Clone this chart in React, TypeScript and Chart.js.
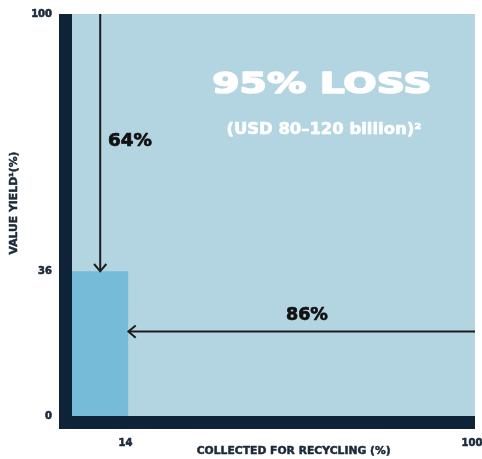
import React, { useEffect, useRef } from "react";
import { Chart, registerables } from "chart.js";

Chart.register(...registerables);

// ---- data ----
const X_TICKS = [14, 100];
const Y_TICKS = [0, 36, 100];
const potentialX = [0, 100];
const potentialY = [100, 100];
const yieldX = [0, 14];
const yieldY = [36, 36];
const valueLossArrowX = [7, 7];
const valueLossArrowY = [100, 36];
const notCollectedArrowX = [100, 14];
const notCollectedArrowY = [21, 21];
const VALUE_LOSS_LABEL = "64%";
const NOT_COLLECTED_LABEL = "86%";
const HEADLINE = "95% LOSS";
const SUBLINE = "(USD 80–120 billion)²";
const X_TITLE = "COLLECTED FOR RECYCLING (%)";
const Y_TITLE = "VALUE YIELD¹(%)";

const pts = (xs: number[], ys: number[]) => xs.map((x, i) => ({ x, y: ys[i] }));

const NAVY = "#0f2338";
const TEXT = "#1c2a3a";
const FONT = "'DejaVu Sans', sans-serif";

function drawText(
  ctx: CanvasRenderingContext2D,
  text: string,
  cx: number,
  cy: number,
  font: string,
  color: string,
  width?: number,
  rotate?: number,
  stroke?: number
) {
  ctx.save();
  ctx.font = font;
  const w = ctx.measureText(text).width;
  const s = width ? width / w : 1;
  ctx.translate(cx, cy);
  if (rotate) ctx.rotate(rotate);
  ctx.scale(s, 1);
  ctx.textAlign = "center";
  ctx.textBaseline = "middle";
  ctx.fillStyle = color;
  ctx.fillText(text, 0, 0);
  if (stroke) {
    ctx.strokeStyle = color;
    ctx.lineWidth = stroke;
    ctx.lineJoin = "round";
    ctx.strokeText(text, 0, 0);
  }
  ctx.restore();
}

const decorPlugin = {
  id: "decor",
  afterDatasetsDraw(chart: any) {
    const { ctx, chartArea, scales } = chart;
    const x = scales.x;
    const y = scales.y;
    // arrowheads
    chart.data.datasets.forEach((ds: any, i: number) => {
      if (!ds.arrow) return;
      const meta = chart.getDatasetMeta(i);
      const p = meta.data;
      const a = p[p.length - 2];
      const b = p[p.length - 1];
      const ang = Math.atan2(b.y - a.y, b.x - a.x);
      const len = 9.5;
      const spread = (40 * Math.PI) / 180;
      ctx.save();
      ctx.strokeStyle = ds.borderColor;
      ctx.lineWidth = 2;
      ctx.beginPath();
      ctx.moveTo(b.x - len * Math.cos(ang - spread), b.y - len * Math.sin(ang - spread));
      ctx.lineTo(b.x, b.y);
      ctx.lineTo(b.x - len * Math.cos(ang + spread), b.y - len * Math.sin(ang + spread));
      ctx.stroke();
      ctx.restore();
    });
    // frame
    ctx.save();
    ctx.fillStyle = NAVY;
    const t = 13;
    ctx.fillRect(chartArea.left - t, chartArea.top, t, chartArea.bottom - chartArea.top + t);
    ctx.fillRect(chartArea.left - t, chartArea.bottom, chartArea.right - chartArea.left + t, t);
    ctx.restore();
    // annotations
    drawText(ctx, VALUE_LOSS_LABEL, x.getPixelForValue(14.4), y.getPixelForValue(68.4), `bold 18px ${FONT}`, "#111111", 44, 0, 0.7);
    drawText(ctx, NOT_COLLECTED_LABEL, x.getPixelForValue(58.3), y.getPixelForValue(25.1), `bold 18px ${FONT}`, "#111111", 42, 0, 0.7);
    drawText(ctx, HEADLINE, x.getPixelForValue(62), y.getPixelForValue(82.3), `bold 29px ${FONT}`, "#ffffff", 219, 0, 1.6);
    drawText(ctx, SUBLINE, x.getPixelForValue(62.5), y.getPixelForValue(71.1), `bold 15px ${FONT}`, "#ffffff", 195, 0, 0.6);
    // axis titles
    drawText(ctx, X_TITLE, x.getPixelForValue(55), 451, `bold 10.5px ${FONT}`, TEXT, 194, 0, 0.5);
    drawText(ctx, Y_TITLE, 14, y.getPixelForValue(53), `bold 10.5px ${FONT}`, TEXT, 103, -Math.PI / 2, 0.5);
  },
};

export default function App() {
  const ref = useRef<HTMLCanvasElement>(null);
  useEffect(() => {
    document.body.style.margin = "0";
    const chart = new Chart(ref.current!, {
      type: "line",
      data: {
        datasets: [
          {
            data: pts(potentialX, potentialY),
            backgroundColor: "#b3d5e1",
            borderWidth: 0,
            pointRadius: 0,
            fill: "origin",
            order: 4,
          },
          {
            data: pts(yieldX, yieldY),
            backgroundColor: "#76bbd8",
            borderWidth: 0,
            pointRadius: 0,
            fill: "origin",
            order: 3,
          },
          {
            data: pts(valueLossArrowX, valueLossArrowY),
            borderColor: "#1c1c1c",
            borderWidth: 2,
            pointRadius: 0,
            fill: false,
            order: 1,
            arrow: true,
          } as any,
          {
            data: pts(notCollectedArrowX, notCollectedArrowY),
            borderColor: "#1c1c1c",
            borderWidth: 2,
            pointRadius: 0,
            fill: false,
            order: 1,
            arrow: true,
          } as any,
        ],
      },
      options: {
        animation: false,
        responsive: true,
        maintainAspectRatio: false,
        layout: { padding: { top: 14, right: 7, left: 0, bottom: 0 } },
        plugins: { legend: { display: false }, tooltip: { enabled: false } },
        scales: {
          x: {
            type: "linear",
            min: 0,
            max: 100,
            grid: { display: false, drawTicks: false },
            border: { display: false },
            afterBuildTicks: (axis: any) => {
              axis.ticks = X_TICKS.map((v) => ({ value: v }));
            },
            afterFit: (axis: any) => {
              axis.height = 43;
              axis.paddingLeft = 0;
              axis.paddingRight = 0;
            },
            ticks: {
              padding: 21,
              labelOffset: -3,
              maxRotation: 0,
              autoSkip: false,
              color: TEXT,
              textStrokeColor: TEXT,
              textStrokeWidth: 0.6,
              font: { family: FONT, size: 10, weight: "bold" },
            },
          },
          y: {
            type: "linear",
            min: 0,
            max: 100,
            grid: { display: false, drawTicks: false },
            border: { display: false },
            afterBuildTicks: (axis: any) => {
              axis.ticks = Y_TICKS.map((v) => ({ value: v }));
            },
            afterFit: (axis: any) => {
              axis.width = 72;
              axis.paddingTop = 0;
              axis.paddingBottom = 0;
            },
            ticks: {
              padding: 20,
              autoSkip: false,
              color: TEXT,
              textStrokeColor: TEXT,
              textStrokeWidth: 0.6,
              font: { family: FONT, size: 10, weight: "bold" },
            },
          },
        },
      },
      plugins: [decorPlugin],
    });
    return () => chart.destroy();
  }, []);
  return (
    <div style={{ position: "relative", width: 482, height: 459 }}>
      <canvas ref={ref} />
    </div>
  );
}
